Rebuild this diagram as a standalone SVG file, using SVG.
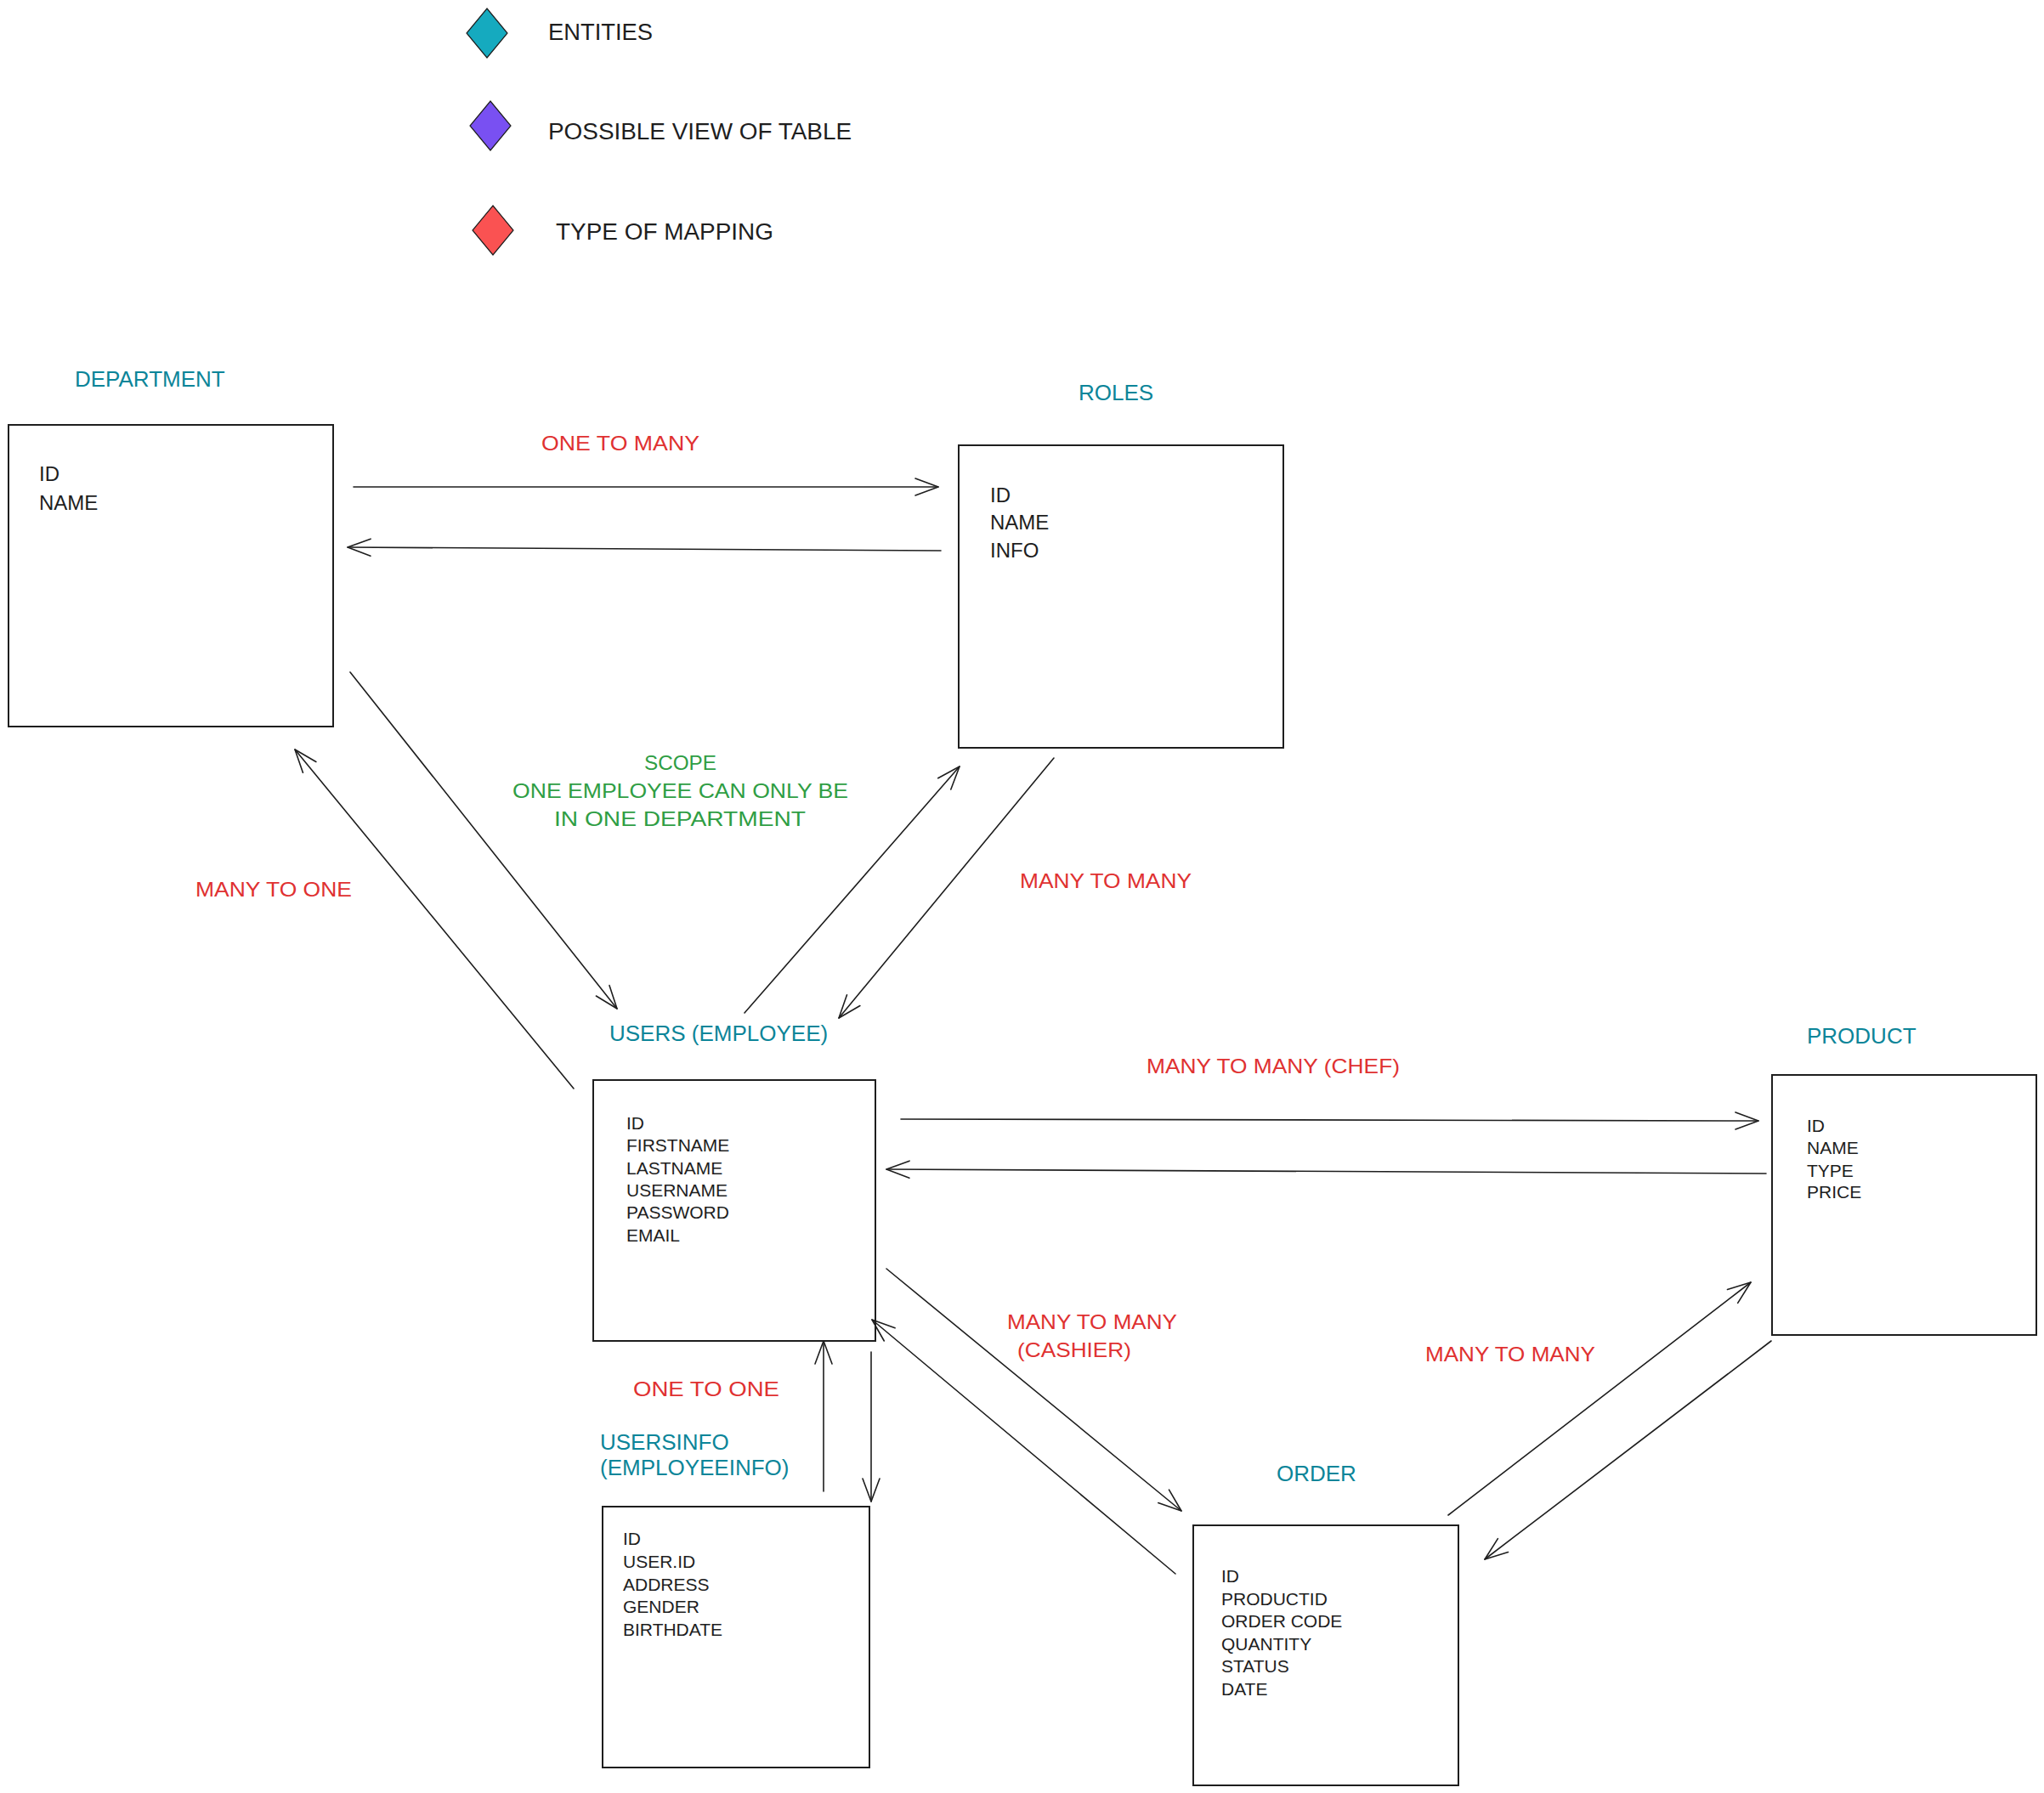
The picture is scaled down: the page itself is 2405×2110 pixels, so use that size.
<svg xmlns="http://www.w3.org/2000/svg" width="2405" height="2110" viewBox="0 0 2405 2110">
<style>
  .bg { fill: #ffffff; }
  .box { fill: none; stroke: #1e1e1e; stroke-width: 2; }
  .conn { fill: none; stroke: #1e1e1e; stroke-width: 1.6; stroke-linecap: round; }
  .legend { font-family: "Liberation Sans", Arial, sans-serif; font-size: 27px; fill: #1e1e1e; }
  .title { font-family: "Liberation Sans", Arial, sans-serif; font-size: 26px; fill: #0c8599; }
  .attr { font-family: "Liberation Sans", Arial, sans-serif; font-size: 21px; fill: #1e1e1e; }
  .attrL { font-family: "Liberation Sans", Arial, sans-serif; font-size: 24px; fill: #1e1e1e; }
  .rel { font-family: "Liberation Sans", Arial, sans-serif; font-size: 24px; fill: #e03131; }
  .note { font-family: "Liberation Sans", Arial, sans-serif; font-size: 24px; fill: #2f9e44; }
  .dia { stroke: #1e1e1e; stroke-width: 1.2; }
</style>
<defs>
  <marker id="arrow" markerUnits="userSpaceOnUse" markerWidth="40" markerHeight="30" viewBox="-32 -15 40 30" refX="0" refY="0" orient="auto">
    <path d="M-27,-10 L0,0 L-27,10" fill="none" stroke="#1e1e1e" stroke-width="1.6" stroke-linecap="round" stroke-linejoin="round"/>
  </marker>
</defs>
<rect class="bg" x="0" y="0" width="2405" height="2110"/>

<g id="legend">
  <polygon class="dia" points="573,10 597,39 573,68 549,39" fill="#15aabf"/>
  <text class="legend" x="645" y="47" textLength="123" lengthAdjust="spacingAndGlyphs">ENTITIES</text>
  <polygon class="dia" points="577,119 601,148 577,177 553,148" fill="#7950f2"/>
  <text class="legend" x="645" y="164" textLength="357" lengthAdjust="spacingAndGlyphs">POSSIBLE VIEW OF TABLE</text>
  <polygon class="dia" points="580,242 604,271 580,300 556,271" fill="#fa5252"/>
  <text class="legend" x="654" y="282" textLength="256" lengthAdjust="spacingAndGlyphs">TYPE OF MAPPING</text>
</g>

<g id="connectors">
  <line class="conn" x1="416" y1="573" x2="1104" y2="573" marker-end="url(#arrow)"/>
  <line class="conn" x1="1107" y1="648" x2="409" y2="644" marker-end="url(#arrow)"/>
  <line class="conn" x1="412" y1="791" x2="726" y2="1187" marker-end="url(#arrow)"/>
  <line class="conn" x1="675" y1="1281" x2="347" y2="882" marker-end="url(#arrow)"/>
  <line class="conn" x1="876" y1="1192" x2="1129" y2="902" marker-end="url(#arrow)"/>
  <line class="conn" x1="1240" y1="892" x2="987" y2="1198" marker-end="url(#arrow)"/>
  <line class="conn" x1="1060" y1="1317" x2="2069" y2="1319" marker-end="url(#arrow)"/>
  <line class="conn" x1="2078" y1="1381" x2="1043" y2="1376" marker-end="url(#arrow)"/>
  <line class="conn" x1="1043" y1="1493" x2="1390" y2="1778" marker-end="url(#arrow)"/>
  <line class="conn" x1="1383" y1="1852" x2="1026" y2="1553" marker-end="url(#arrow)"/>
  <line class="conn" x1="969" y1="1755" x2="969" y2="1578" marker-end="url(#arrow)"/>
  <line class="conn" x1="1025" y1="1591" x2="1025" y2="1767" marker-end="url(#arrow)"/>
  <line class="conn" x1="1704" y1="1783" x2="2060" y2="1509" marker-end="url(#arrow)"/>
  <line class="conn" x1="2084" y1="1578" x2="1747" y2="1835" marker-end="url(#arrow)"/>
</g>

<g id="relation-labels">
  <text class="rel" x="637" y="530" textLength="186" lengthAdjust="spacingAndGlyphs">ONE TO MANY</text>
  <text class="rel" x="230" y="1055" textLength="184" lengthAdjust="spacingAndGlyphs">MANY TO ONE</text>
  <text class="rel" x="1200" y="1045" textLength="202" lengthAdjust="spacingAndGlyphs">MANY TO MANY</text>
  <text class="rel" x="1349" y="1263" textLength="298" lengthAdjust="spacingAndGlyphs">MANY TO MANY (CHEF)</text>
  <text class="rel" x="1185" y="1564" textLength="200" lengthAdjust="spacingAndGlyphs">MANY TO MANY</text>
  <text class="rel" x="1197" y="1597" textLength="134" lengthAdjust="spacingAndGlyphs">(CASHIER)</text>
  <text class="rel" x="1677" y="1602" textLength="200" lengthAdjust="spacingAndGlyphs">MANY TO MANY</text>
  <text class="rel" x="745" y="1643" textLength="172" lengthAdjust="spacingAndGlyphs">ONE TO ONE</text>
</g>

<g id="scope-note">
  <text class="note" x="758" y="906" textLength="85" lengthAdjust="spacingAndGlyphs">SCOPE</text>
  <text class="note" x="603" y="939" textLength="395" lengthAdjust="spacingAndGlyphs">ONE EMPLOYEE CAN ONLY BE</text>
  <text class="note" x="652" y="972" textLength="296" lengthAdjust="spacingAndGlyphs">IN ONE DEPARTMENT</text>
</g>

<g id="department">
  <text class="title" x="88" y="455">DEPARTMENT</text>
  <rect class="box" x="10" y="500" width="382" height="355"/>
  <text class="attrL" x="46" y="566">ID</text>
  <text class="attrL" x="46" y="600">NAME</text>
</g>

<g id="roles">
  <text class="title" x="1269" y="471">ROLES</text>
  <rect class="box" x="1128" y="524" width="382" height="356"/>
  <text class="attrL" x="1165" y="591">ID</text>
  <text class="attrL" x="1165" y="623">NAME</text>
  <text class="attrL" x="1165" y="656">INFO</text>
</g>

<g id="users">
  <text class="title" x="717" y="1225">USERS (EMPLOYEE)</text>
  <rect class="box" x="698" y="1271" width="332" height="307"/>
  <text class="attr" x="737" y="1329">ID</text>
  <text class="attr" x="737" y="1355">FIRSTNAME</text>
  <text class="attr" x="737" y="1382">LASTNAME</text>
  <text class="attr" x="737" y="1408">USERNAME</text>
  <text class="attr" x="737" y="1434">PASSWORD</text>
  <text class="attr" x="737" y="1461">EMAIL</text>
</g>

<g id="product">
  <text class="title" x="2126" y="1228">PRODUCT</text>
  <rect class="box" x="2085" y="1265" width="311" height="306"/>
  <text class="attr" x="2126" y="1332">ID</text>
  <text class="attr" x="2126" y="1358">NAME</text>
  <text class="attr" x="2126" y="1385">TYPE</text>
  <text class="attr" x="2126" y="1410">PRICE</text>
</g>

<g id="usersinfo">
  <text class="title" x="706" y="1706">USERSINFO</text>
  <text class="title" x="706" y="1736">(EMPLOYEEINFO)</text>
  <rect class="box" x="709" y="1773" width="314" height="307"/>
  <text class="attr" x="733" y="1818">ID</text>
  <text class="attr" x="733" y="1845">USER.ID</text>
  <text class="attr" x="733" y="1872">ADDRESS</text>
  <text class="attr" x="733" y="1898">GENDER</text>
  <text class="attr" x="733" y="1925">BIRTHDATE</text>
</g>

<g id="order">
  <text class="title" x="1502" y="1743">ORDER</text>
  <rect class="box" x="1404" y="1795" width="312" height="306"/>
  <text class="attr" x="1437" y="1862">ID</text>
  <text class="attr" x="1437" y="1889">PRODUCTID</text>
  <text class="attr" x="1437" y="1915">ORDER CODE</text>
  <text class="attr" x="1437" y="1942">QUANTITY</text>
  <text class="attr" x="1437" y="1968">STATUS</text>
  <text class="attr" x="1437" y="1995">DATE</text>
</g>
</svg>
